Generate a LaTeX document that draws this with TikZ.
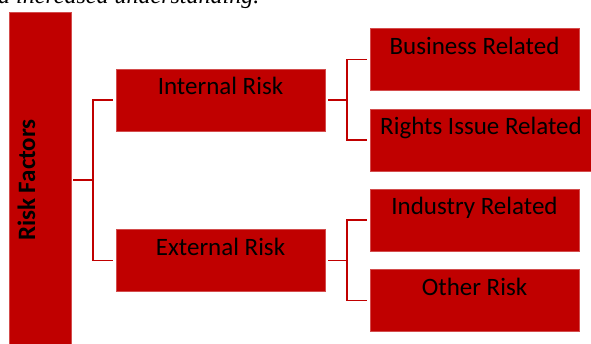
\documentclass[tikz,border=0pt]{standalone}
\usepackage{fontspec}
\setmainfont{Carlito}
\newfontfamily\serifit{Liberation Serif}
\definecolor{boxred}{HTML}{C00000}
\definecolor{linered}{HTML}{C00000}
\begin{document}
\begin{tikzpicture}[x=1pt,y=-1pt,
  rbox/.style={fill=boxred, draw=boxred!70!white, line width=0.4pt, inner sep=0pt,
    minimum height=62pt, text height=26pt, text depth=36pt,
    font=\fontsize{25}{29}\selectfont, text=black},
  conn/.style={draw=linered, line width=1.6pt}]
\clip (0,0) rectangle (591,344);
\useasboundingbox (0,0) rectangle (591,344);
\fill[white] (0,0) rectangle (591,344);
% cut-off paragraph text at top
\node[anchor=base west, inner sep=0pt, font=\serifit\itshape\fontsize{24}{28}\selectfont] (top) at (-2,4) {d increased understanding.};
% boxes
\node[rbox, rotate=90, minimum width=336pt, font=\bfseries\fontsize{25}{29}\selectfont] (rf) at (40,180) {Risk Factors};
\node[rbox, minimum width=209pt] (ir) at (220.5,100) {Internal Risk};
\node[rbox, minimum width=209pt] (er) at (220.5,260.5) {External Risk};
\node[rbox, minimum width=209pt] (br) at (474.5,59.5) {Business Related};
\node[rbox, minimum width=222pt] (ri) at (481,140) {Rights Issue Related};
\node[rbox, minimum width=209pt] (ind) at (474.5,220) {Industry Related};
\node[rbox, minimum width=209pt] (ot) at (474.5,300.5) {Other Risk};
% junctions
\coordinate (j1) at (93,180);
\coordinate (j2) at (347,100);
\coordinate (j3) at (347,260.5);
% connectors
\draw[conn, shorten <=2pt] (rf.south |- j1) -- (j1);
\draw[conn, shorten >=3pt] (j1) |- (ir.west);
\draw[conn, shorten >=3pt] (j1) |- (er.west);
\draw[conn, shorten <=3pt] (ir.east) -- (j2);
\draw[conn, shorten >=3pt] (j2) |- (br.west);
\draw[conn, shorten >=3pt] (j2) |- (ri.west);
\draw[conn, shorten <=3pt] (er.east) -- (j3);
\draw[conn, shorten >=3pt] (j3) |- (ind.west);
\draw[conn, shorten >=3pt] (j3) |- (ot.west);
\end{tikzpicture}
\end{document}
